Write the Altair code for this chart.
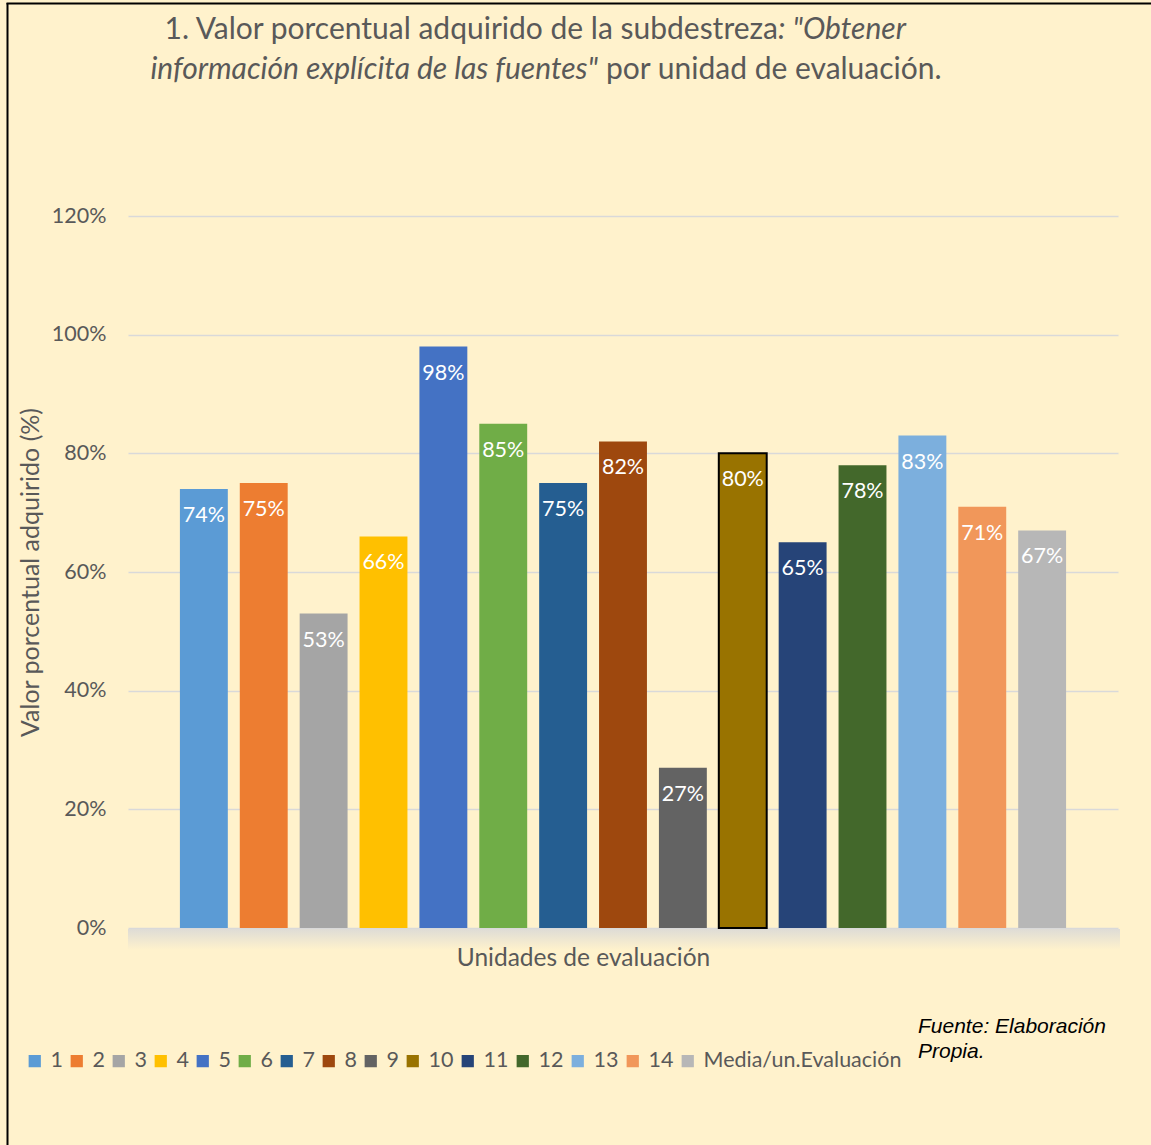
import altair as alt
import pandas as pd

unidades = ["1", "2", "3", "4", "5", "6", "7", "8", "9", "10", "11", "12", "13", "14",
            "Media/un.Evaluación"]
valores = [74, 75, 53, 66, 98, 85, 75, 82, 27, 80, 65, 78, 83, 71, 67]
colores = ["#5B9BD5", "#ED7D31", "#A5A5A5", "#FFC000", "#4472C4", "#70AD47", "#255E91",
           "#9E480E", "#636363", "#997300", "#264478", "#43682B", "#7CAFDD", "#F1975A",
           "#B7B7B7"]
ticks_y = [0, 0.2, 0.4, 0.6, 0.8, 1.0, 1.2]

titulo_1a = "1. Valor porcentual adquirido de la subdestreza"
titulo_1b = ': "Obtener'
titulo_2a = 'información explícita de las fuentes"'
titulo_2b = "por unidad de evaluación."
fuente = ["Fuente: Elaboración", "Propia."]

df = pd.DataFrame({"unidad": unidades, "valor": [v / 100 for v in valores]})

FONT = "Lato"
GRIS = "#595959"
BG = "#FFF2CC"
W, H = 990, 712

base = alt.Chart(df)

x_enc = alt.X(
    "unidad:N", sort=unidades,
    scale=alt.Scale(paddingInner=0.2, paddingOuter=0.867),
    axis=alt.Axis(labels=False, ticks=False, domain=False, title="Unidades de evaluación",
                  titleFont=FONT, titleFontSize=24.5, titleFontWeight="normal",
                  titleColor=GRIS, titleX=455, titleY=30, titleAlign="center",
                  titleBaseline="middle", zindex=1),
)
y_enc = alt.Y(
    "valor:Q",
    scale=alt.Scale(domain=[0, 1.2], nice=False),
    axis=alt.Axis(values=ticks_y, format=".0%", labelFont=FONT, labelFontSize=21.5,
                  labelColor=GRIS, labelPadding=22, ticks=False, domain=False,
                  grid=True, gridColor="#D9D9D9", gridWidth=1.5,
                  title="Valor porcentual adquirido (%)", titleFont=FONT,
                  titleFontSize=25, titleFontWeight="normal", titleColor=GRIS,
                  titleX=-98, titleY=H / 2, titleAngle=270, titleAlign="center",
                  titleBaseline="middle"),
)

sombra = alt.Chart(pd.DataFrame({"a": [0]})).mark_rect(
    color=alt.Gradient(gradient="linear", x1=0, y1=0, x2=0, y2=1,
                       stops=[alt.GradientStop(color="#dedcd6", offset=0),
                              alt.GradientStop(color=BG, offset=1)])
).encode(x=alt.value(0), x2=alt.value(W + 2), y=alt.value(H + 1), y2=alt.value(H + 22))

barras = base.mark_bar().encode(
    x=x_enc,
    y=y_enc,
    color=alt.Color("unidad:N", sort=unidades,
                    scale=alt.Scale(domain=unidades, range=colores),
                    legend=alt.Legend(title=None, orient="none", legendX=-104, legendY=834,
                                      direction="horizontal", columns=15,
                                      symbolType="square", symbolSize=150,
                                      symbolStrokeWidth=0, labelFont=FONT,
                                      labelFontSize=21.5, labelColor=GRIS, labelOffset=5,
                                      labelLimit=400, columnPadding=3, padding=0)),
    stroke=alt.value("#000000"),
    strokeWidth=alt.condition(alt.datum.unidad == "10", alt.value(2), alt.value(0)),
)

etiquetas = base.mark_text(color="white", font=FONT, fontSize=21.5, baseline="middle",
                           align="center", dy=27).encode(
    x=alt.X("unidad:N", sort=unidades),
    y=alt.Y("valor:Q"),
    text=alt.Text("valor:Q", format=".0%"),
)

uno = pd.DataFrame({"a": [0]})
tfont = dict(font=FONT, fontSize=30, color=GRIS, baseline="middle")
t1a = alt.Chart(uno).mark_text(align="right", **tfont).encode(
    x=alt.value(650), y=alt.value(-186), text=alt.value(titulo_1a))
t1b = alt.Chart(uno).mark_text(align="left", fontStyle="italic", **tfont).encode(
    x=alt.value(650), y=alt.value(-186), text=alt.value(titulo_1b))
t2a = alt.Chart(uno).mark_text(align="right", fontStyle="italic", **tfont).encode(
    x=alt.value(470), y=alt.value(-146), text=alt.value(titulo_2a))
t2b = alt.Chart(uno).mark_text(align="left", **tfont).encode(
    x=alt.value(478), y=alt.value(-146), text=alt.value(titulo_2b))

tf = alt.Chart(uno).mark_text(align="left", baseline="middle", font="Liberation Sans",
                              fontSize=21, fontStyle="italic", color="#000000",
                              lineHeight=25).encode(
    x=alt.value(790), y=alt.value(811), text=alt.value(fuente))

borde_izq = alt.Chart(uno).mark_rule(color="#000000", strokeWidth=2).encode(
    x=alt.value(-120.5), y=alt.value(-213), y2=alt.value(929))
borde_sup = alt.Chart(uno).mark_rule(color="#000000", strokeWidth=2).encode(
    x=alt.value(-121.5), x2=alt.value(1023), y=alt.value(-212.5))

chart = alt.layer(sombra, barras, etiquetas, t1a, t1b, t2a, t2b, tf, borde_izq, borde_sup).properties(
    width=W, height=H,
    background=BG,
    padding={"left": 128, "top": 216, "right": 33, "bottom": 217},
    autosize=alt.AutoSizeParams(type="none"),
).configure_view(stroke=None).configure_axis(labelFontWeight="normal")

chart.save("out.html", embed_options={"renderer": "svg", "actions": False})
